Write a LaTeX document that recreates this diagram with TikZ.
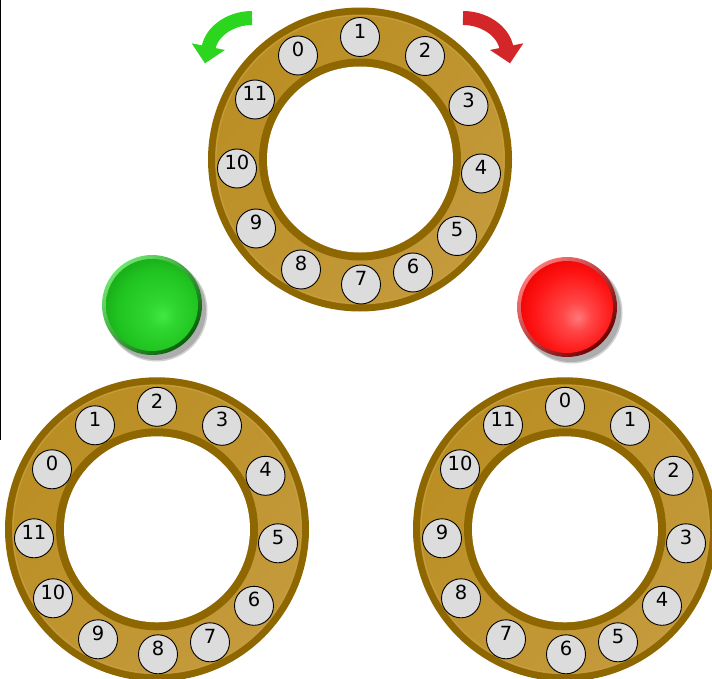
\documentclass[tikz,border=0pt]{standalone}
\usepackage{fontspec}
\setmainfont{DejaVu Sans}
\usetikzlibrary{calc}
\definecolor{ringdark}{RGB}{143,103,0}
\definecolor{ringgold}{RGB}{186,142,34}
\definecolor{ringlite}{RGB}{196,154,60}
\definecolor{ringedge}{RGB}{198,158,66}
\definecolor{ballgray}{RGB}{220,220,220}
\definecolor{garrow}{RGB}{44,214,30}
\definecolor{rarrow}{RGB}{210,38,40}
\definecolor{gHi}{RGB}{66,232,66}
\definecolor{gHm}{RGB}{48,214,48}
\definecolor{gMid}{RGB}{32,196,32}
\definecolor{gLo}{RGB}{22,164,22}
\definecolor{gRimL}{RGB}{110,230,110}
\definecolor{gRimD}{RGB}{8,96,8}
\definecolor{rHi}{RGB}{255,120,120}
\definecolor{rHm}{RGB}{255,70,70}
\definecolor{rMid}{RGB}{255,20,20}
\definecolor{rLo}{RGB}{235,0,0}
\definecolor{rRimL}{RGB}{255,120,120}
\definecolor{rRimD}{RGB}{110,0,0}
\pgfdeclareradialshading{greenglow}{\pgfpoint{6bp}{-6bp}}{color(0bp)=(gHi); color(8bp)=(gHm); color(22bp)=(gMid); color(32bp)=(gLo); color(50bp)=(gLo)}
\pgfdeclareradialshading{redglow}{\pgfpoint{6bp}{-6bp}}{color(0bp)=(rHi); color(8bp)=(rHm); color(22bp)=(rMid); color(32bp)=(rLo); color(50bp)=(rLo)}
\tikzset{
  ball/.style={circle, draw=black, line width=0.9pt, fill=ballgray, minimum size=39pt, inner sep=0pt},
  num/.style={font=\fontsize{19.5}{19.5}\selectfont, inner sep=0pt, text=black},
  band/.style={line width=14pt}
}
\begin{document}
\begin{tikzpicture}[x=1pt,y=-1pt]
\useasboundingbox (0,0) rectangle (712,679);
\clip (0,0) rectangle (712,679);
\fill[white] (0,0) rectangle (712,679);
\draw[black, line width=1.2pt] (0.6,0) -- (0.6,440);
% rings
\foreach \nm/\cx/\cy/\sh in {T/360/159.5/1, L/157/529.3/2, R/565/529.3/0} {
  \coordinate (\nm c) at (\cx,\cy);
  \fill[ringdark] (\nm c) circle (152);
  \shade[top color=ringgold, middle color=ringgold, bottom color=ringlite, shading angle=45] (\nm c) circle (145);
  \draw[ringedge, line width=1pt] (\nm c) circle (144);
  \fill[ringdark] (\nm c) circle (101);
  \fill[white] (\nm c) circle (93);
  \foreach \dx/\dy [count=\k from 0] in {0/-122.5, 65/-103.5, 108.5/-53.5, 121/14, 97/76.5, 53/113, 1/125, -59/110, -104/69, -123/9, -105/-60, -62/-104} {
    \pgfmathtruncatemacro\lab{mod(\k+\sh,12)}
    \node[ball] (\nm\k) at ([shift={(\dx,\dy)}]\nm c) {};
    \node[num] (\nm n\k) at ([yshift=6pt]\nm\k.center) {\lab};
  }
}
% green button
\coordinate (G) at (152,305);
\fill[black!18] ([shift={(4.5,5.5)}]G) circle (51);
\fill[black!32] ([shift={(4,5)}]G) circle (50);
\shade[top color=gRimL, bottom color=gRimD, shading angle=45] (G) circle (50);
\shade[shading=greenglow] (G) circle (46);
% red button
\coordinate (R) at (567,307);
\fill[black!18] ([shift={(4.5,5.5)}]R) circle (51);
\fill[black!32] ([shift={(4,5)}]R) circle (50);
\shade[top color=rRimL, bottom color=rRimD, shading angle=45] (R) circle (50);
\shade[shading=redglow] (R) circle (46);
% green arrow
\coordinate (ga) at (252,18);
\coordinate (gb) at (208.5,48);
\coordinate (gt) at (205,63.3);
\fill[garrow] (191.7,43.3) -- (225,50) -- (gt) -- cycle;
\draw[garrow, band] (ga) .. controls (232,18) and (212,30) .. (gb);
% red arrow
\coordinate (ra) at (463,18);
\coordinate (rb) at (506.5,48);
\coordinate (rt) at (510,63.3);
\fill[rarrow] (523.3,43.3) -- (490,50) -- (rt) -- cycle;
\draw[rarrow, band] (ra) .. controls (483,18) and (503,30) .. (rb);
\end{tikzpicture}
\end{document}
